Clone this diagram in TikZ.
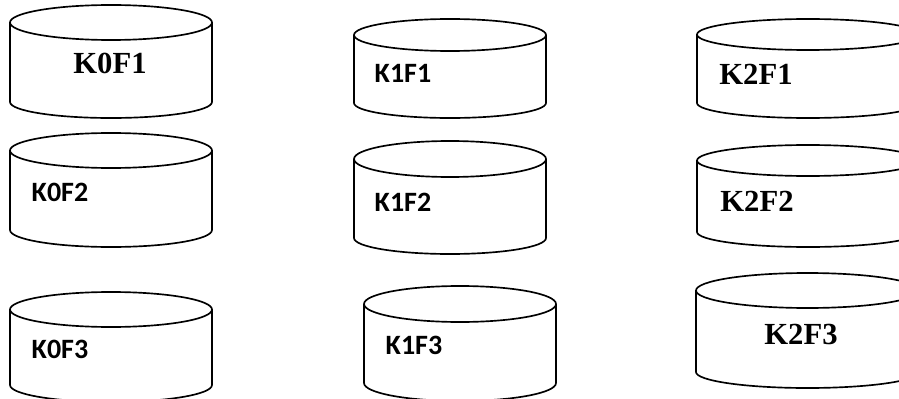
\documentclass[tikz,border=0pt]{standalone}
\usepackage{fontspec}
\setmainfont{Liberation Serif}
\newfontfamily\calib{Carlito}
\tikzset{
  x=0.75pt,y=-0.75pt,
  cyl/.style={draw=black,line width=1.25pt,fill=white},
  serifl/.style={font=\fontsize{23}{27}\selectfont\bfseries,inner sep=0pt,text=black},
  sansl/.style={font=\calib\fontsize{21}{25}\selectfont\bfseries,inner sep=0pt,text=black}
}
% #1 left, #2 right, #3 top, #4 ellipse bottom, #5 side bottom, #6 overall bottom
\newcommand{\drum}[6]{%
  \pgfmathsetmacro{\cx}{(#1+#2)/2}\pgfmathsetmacro{\rx}{(#2-#1)/2*0.75}
  \pgfmathsetmacro{\cy}{(#3+#4)/2}\pgfmathsetmacro{\ry}{(#4-#3)/2*0.75}
  \pgfmathsetmacro{\rb}{(#6-#5)*0.75}
  \draw[cyl] (#1,\cy) -- (#1,#5) arc[start angle=180,end angle=360,x radius=\rx pt,y radius=\rb pt] -- (#2,\cy);
  \draw[cyl] (\cx,\cy) ellipse[x radius=\rx pt,y radius=\ry pt];
}
\begin{document}
\begin{tikzpicture}
\useasboundingbox (0,0) rectangle (899,399);
\begin{scope}
\clip (0,0) rectangle (899,399);
\drum{10}{212}{5}{40}{102}{118}
\drum{10}{212}{133}{168}{230}{247}
\drum{10}{212}{292}{327}{385}{402}
\drum{354}{546}{19}{51}{103}{118}
\drum{354}{546}{141}{177}{238}{254}
\drum{364}{556}{286}{322}{383}{401}
\drum{697}{919}{19}{50}{103}{118}
\drum{697}{919}{145}{176}{232}{247}
\drum{696}{919}{273}{308}{372}{388}
\end{scope}
\node[serifl] (k0f1) at (110,63) {K0F1};
\node[sansl] (k0f2) at (60,192) {K0F2};
\node[sansl] (k0f3) at (60,349) {K0F3};
\node[sansl] (k1f1) at (403,73) {K1F1};
\node[sansl] (k1f2) at (403,202) {K1F2};
\node[sansl] (k1f3) at (414,345) {K1F3};
\node[serifl] (k2f1) at (756,74) {K2F1};
\node[serifl] (k2f2) at (757,201) {K2F2};
\node[serifl] (k2f3) at (801,334) {K2F3};
\end{tikzpicture}
\end{document}
